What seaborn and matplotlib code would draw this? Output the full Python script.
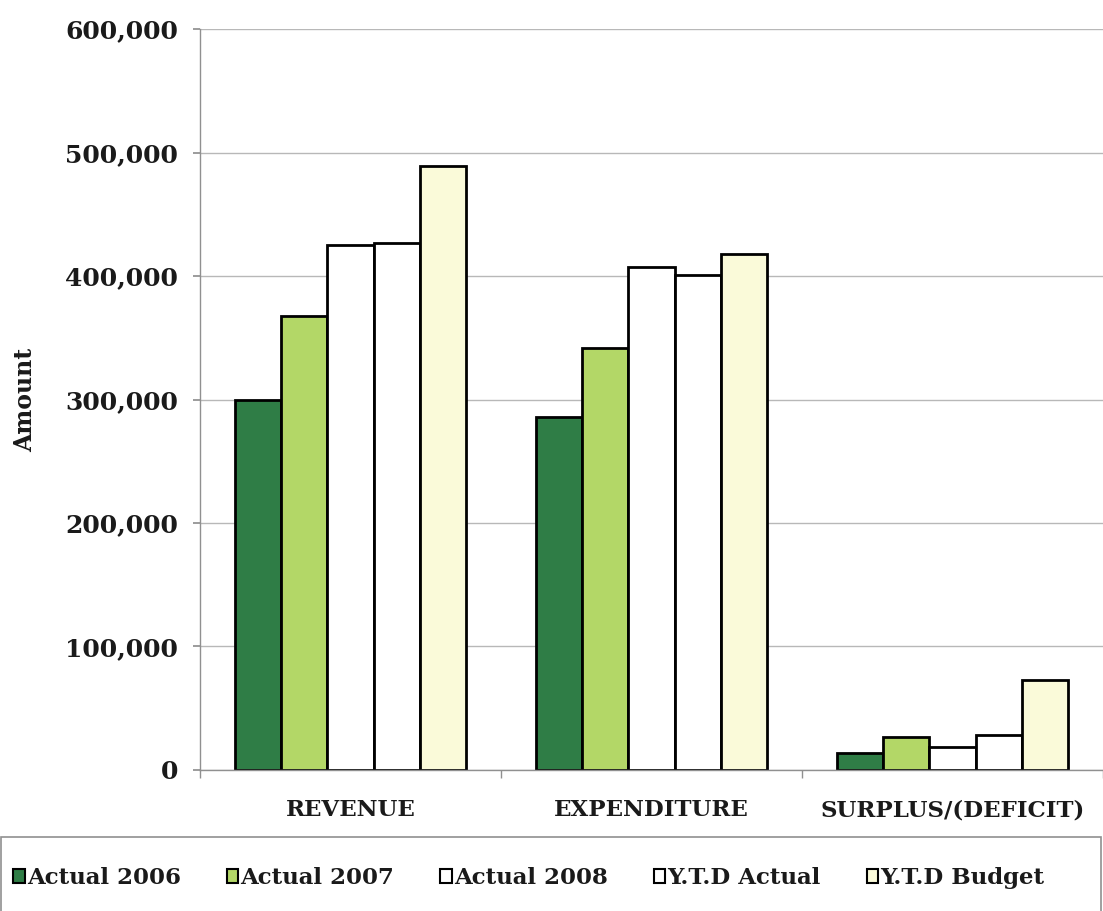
import matplotlib
matplotlib.use("Agg")
import matplotlib.pyplot as plt
import seaborn as sns
import pandas as pd
from matplotlib.ticker import FuncFormatter, FixedLocator
from matplotlib.patches import Patch, Rectangle

categories = ["REVENUE", "EXPENDITURE", "SURPLUS/(DEFICIT)"]
series = ["Actual 2006", "Actual 2007", "Actual 2008", "Y.T.D Actual", "Y.T.D Budget"]
actual_2006 = [300000, 286000, 14000]
actual_2007 = [368000, 342000, 27000]
actual_2008 = [425000, 407000, 19000]
ytd_actual = [427000, 401000, 28000]
ytd_budget = [489000, 418000, 73000]
colors = ["#2f7d46", "#b3d767", "#ffffff", "#ffffff", "#fafad9"]

values = [actual_2006, actual_2007, actual_2008, ytd_actual, ytd_budget]
rows = []
for s, vals in zip(series, values):
    for c, v in zip(categories, vals):
        rows.append({"Category": c, "Series": s, "Amount": v})
df = pd.DataFrame(rows)

sns.set_theme(style="white")
plt.rcParams["font.family"] = ["DejaVu Serif"]
plt.rcParams["font.weight"] = "bold"

fig = plt.figure(figsize=(11.03, 9.11), dpi=100)
ax = fig.add_axes([0.1813, 0.1548, 0.8187, 0.8133])

sns.barplot(data=df, x="Category", y="Amount", hue="Series", order=categories,
            hue_order=series, palette=colors, edgecolor="black", linewidth=2,
            width=0.77, saturation=1, ax=ax, legend=False, errorbar=None)

ax.set_ylim(0, 600000)
ax.set_xlim(-0.5, 2.5)
ax.yaxis.set_major_locator(FixedLocator([0, 100000, 200000, 300000, 400000, 500000, 600000]))
ax.yaxis.set_major_formatter(FuncFormatter(lambda v, p: f"{int(v):,}"))
ax.set_axisbelow(True)
ax.grid(axis="y", color="#b8b8b8", linewidth=1)
ax.grid(axis="x", visible=False)
for side in ["top", "right"]:
    ax.spines[side].set_visible(False)
for side in ["left", "bottom"]:
    ax.spines[side].set_color("#909090")
    ax.spines[side].set_linewidth(1)

ax.tick_params(axis="y", which="major", length=5, color="#909090", labelsize=18, pad=11, left=True)
ax.tick_params(axis="x", which="major", length=0, labelsize=16.5, pad=21)
ax.set_xticks([-0.5, 0.5, 1.5, 2.5], minor=True)
ax.tick_params(axis="x", which="minor", length=6, color="#909090", bottom=True)
for lab in ax.get_xticklabels() + ax.get_yticklabels():
    lab.set_fontweight("bold")
    lab.set_color("#1a1a1a")
ax.set_xlabel("")
ax.set_ylabel("Amount", fontsize=17, fontweight="bold", color="#1a1a1a", labelpad=20)

# legend box spanning the figure width
box_top = (911 - 837) / 911
fig.patches.append(Rectangle((0.001, -0.01), 0.997, box_top + 0.01, transform=fig.transFigure,
                             facecolor="white", edgecolor="#909090", linewidth=1.2, zorder=0))

handles = [Patch(facecolor=c, edgecolor="black", linewidth=1.5) for c in colors]
leg = fig.legend(handles, series, loc="center left", bbox_to_anchor=(0.012, (911 - 878) / 911),
                 ncol=5, frameon=False, handlelength=0.5, handleheight=0.6,
                 handletextpad=0.1, borderaxespad=0.0, borderpad=0.0, columnspacing=2.0,
                 prop={"size": 16.5, "weight": "bold", "family": "DejaVu Serif"})
for t in leg.get_texts():
    t.set_color("#1a1a1a")

fig.savefig("out.png", dpi=100, facecolor="white")
